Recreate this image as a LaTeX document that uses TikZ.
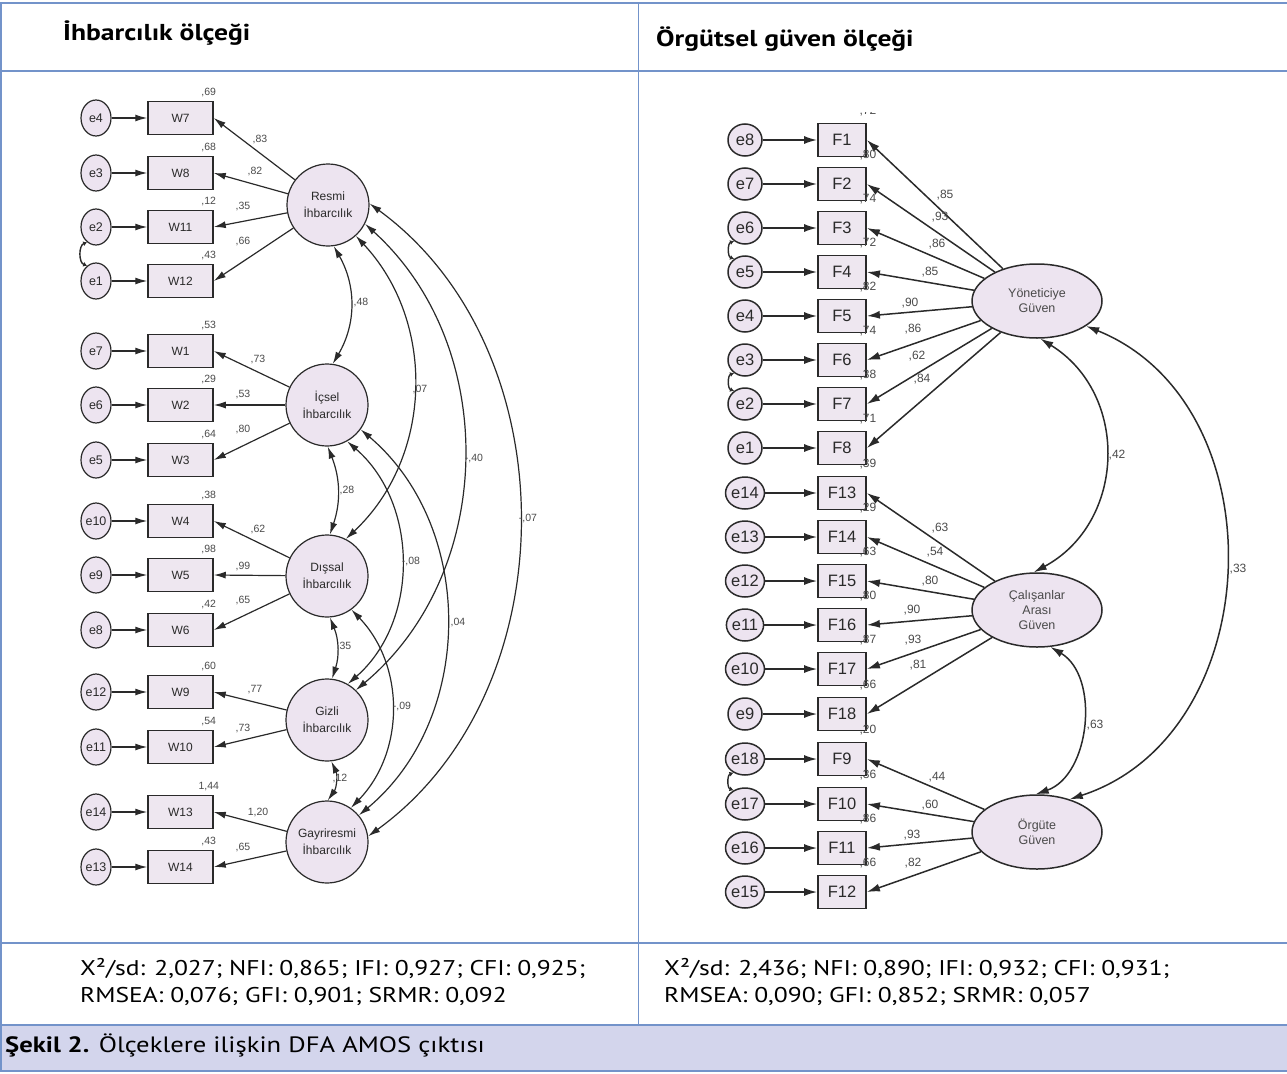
\documentclass[tikz,border=0pt]{standalone}
\usepackage{fontspec}
\setmainfont{PT Sans}[FakeStretch=1.2]
\newfontfamily\amos{Liberation Sans}
\usetikzlibrary{arrows.meta,shapes.geometric}

\definecolor{rulecol}{HTML}{7393CA}
\definecolor{capfill}{HTML}{D3D5EC}
\definecolor{latfill}{HTML}{EDE4F0}
\definecolor{boxfill}{HTML}{EEE7F0}
\definecolor{ink}{HTML}{2A2A2A}
\definecolor{numgray}{HTML}{4A4A4A}

\tikzset{
  load/.style={-{Latex[length=12pt,width=7pt]}, line width=1.2pt, draw=ink},
  loadR/.style={-{Latex[length=13pt,width=8pt]}, line width=1.5pt, draw=ink},
  cov/.style={{Latex[length=12pt,width=7pt]}-{Latex[length=12pt,width=7pt]}, line width=1.2pt, draw=ink},
  covR/.style={{Latex[length=13pt,width=8pt]}-{Latex[length=13pt,width=8pt]}, line width=1.5pt, draw=ink},
  smallcov/.style={{Latex[length=4pt,width=5pt]}-{Latex[length=4pt,width=5pt]}, line width=1.4pt, draw=ink},
  errL/.style={ellipse, draw=ink, line width=1.2pt, fill=latfill, minimum width=30pt, minimum height=36pt, inner sep=0pt, text=ink, font=\amos\fontsize{12.5}{13}\selectfont},
  obsL/.style={rectangle, draw=ink, line width=1.5pt, fill=boxfill, minimum width=65pt, minimum height=33pt, inner sep=0pt, text=ink, font=\amos\fontsize{12}{13}\selectfont},
  latL/.style={circle, draw=ink, line width=1.2pt, fill=latfill, minimum size=82pt, inner sep=0pt, align=center, text=ink, font=\amos\fontsize{12}{17}\selectfont},
  numL/.style={inner sep=0pt, text=numgray, font=\amos\fontsize{10.5}{10}\selectfont},
  errR/.style={ellipse, draw=ink, line width=1.5pt, fill=latfill, minimum width=34pt, minimum height=32pt, inner sep=0pt, text=ink, font=\amos\fontsize{16.5}{17}\selectfont},
  obsR/.style={rectangle, draw=ink, line width=1.8pt, fill=boxfill, minimum width=48pt, minimum height=33pt, inner sep=0pt, text=ink, font=\amos\fontsize{16.5}{17}\selectfont},
  latR/.style={ellipse, draw=ink, line width=1.5pt, fill=latfill, minimum width=130pt, minimum height=74pt, inner sep=0pt, align=center, text=ink!85, font=\amos\fontsize{12.5}{15}\selectfont},
  numR/.style={inner sep=0pt, text=numgray, font=\amos\fontsize{12}{12}\selectfont},
  headtext/.style={inner sep=0pt, font=\bfseries\fontsize{23}{25}\selectfont},
  fitline/.style={inner sep=0pt, font=\fontsize{21.3}{24}\selectfont},
}

\begin{document}
\begin{tikzpicture}[x=1pt,y=-1pt]
\useasboundingbox (0,0) rectangle (1287,1073);

% table frame
\fill[capfill] (0,1025) rectangle (1287,1071);
\draw[rulecol, line width=2pt] (0,3) -- (1287,3);
\draw[rulecol, line width=2pt] (0,71) -- (1287,71);
\draw[rulecol, line width=2pt] (0,943) -- (1287,943);
\draw[rulecol, line width=2pt] (0,1025) -- (1287,1025);
\draw[rulecol, line width=2pt] (0,1071) -- (1287,1071);
\draw[rulecol, line width=1.5pt] (1,3) -- (1,1071);
\draw[rulecol, line width=1pt] (638,3) -- (638,1025);

\node[headtext, anchor=base west] (hl) at (63,41) {İhbarcılık ölçeği};
\node[headtext, anchor=base west] (hr) at (656,47) {Örgütsel güven ölçeği};

\node[fitline, anchor=base west] (fitl1) at (80,975) {X²/sd: 2,027; NFI: 0,865; IFI: 0,927; CFI: 0,925;};
\node[fitline, anchor=base west] (fitl2) at (80,1002) {RMSEA: 0,076; GFI: 0,901; SRMR: 0,092};
\node[fitline, anchor=base west] (fitr1) at (664,975) {X²/sd: 2,436; NFI: 0,890; IFI: 0,932; CFI: 0,931;};
\node[fitline, anchor=base west] (fitr2) at (664,1002) {RMSEA: 0,090; GFI: 0,852; SRMR: 0,057};
\node[fitline, anchor=base west, font=\fontsize{22.2}{24}\selectfont] (cap) at (5,1052) {\textbf{Şekil 2.} Ölçeklere ilişkin DFA AMOS çıktısı};

% ihbarcilik model
\node[latL] (R) at (328,205) {Resmi\\İhbarcılık};
\node[latL] (I) at (327,405) {İçsel\\İhbarcılık};
\node[latL] (D) at (327,576) {Dışsal\\İhbarcılık};
\node[latL] (G) at (327,720) {Gizli\\İhbarcılık};
\node[latL] (Gy) at (327,842) {Gayriresmi\\İhbarcılık};

\foreach \ev/\bx/\yy/\rs/\ld/\lx/\ly/\lv in {
  4/W7/118/{,69}/{,83}/260/140/R, 3/W8/173/{,68}/{,82}/255/172/R,
  2/W11/227/{,12}/{,35}/243/207/R, 1/W12/281/{,43}/{,66}/243/242/R,
  7/W1/351/{,53}/{,73}/258/360/I, 6/W2/405/{,29}/{,53}/243/395/I,
  5/W3/460/{,64}/{,80}/243/430/I, 10/W4/521/{,38}/{,62}/258/529/D,
  9/W5/575/{,98}/{,99}/243/566/D, 8/W6/630/{,42}/{,65}/243/600/D,
  12/W9/692/{,60}/{,77}/255/690/G, 11/W10/747/{,54}/{,73}/243/728/G,
  14/W13/812/{1,44}/{1,20}/258/812/Gy, 13/W14/867/{,43}/{,65}/243/847/Gy}{
  \node[errL] (le\ev) at (96,\yy) {e\ev};
  \node[obsL] (\bx) at (180.5,\yy) {\bx};
  \draw[load] (le\ev) -- (\bx);
  \draw[load] (\lv) -- (\bx.east);
  \node[numL, anchor=south, xshift=-5pt, yshift=4pt] (rsq\bx) at (\bx.north east) {\rs};
  \node[numL] (lam\bx) at (\lx,\ly) {\ld};
}
\draw[smallcov] (le2.240) to[bend right=70] (le1.120);

\draw[cov] (R.-82) to[bend left=30] (I.82);
\draw[cov] (R.-48) to[bend left=45] (D.63);
\draw[cov] (R.-27) to[bend left=49] (G.46);
\draw[cov] (R.2) to[bend left=54] (Gy.8);
\draw[cov] (I.-89) to[bend left=20] (D.86);
\draw[cov] (I.-61) to[bend left=49] (G.60);
\draw[cov] (I.-36) to[bend left=50] (Gy.40);
\draw[cov] (D.-86) to[bend left=20] (G.83);
\draw[cov] (D.-54) to[bend left=44] (Gy.55);
\draw[cov] (G.-84) to[bend left=30] (Gy.89);
\node[numL] (rI) at (361,303) {,48};
\node[numL] (rD) at (420,390) {,07};
\node[numL] (rG) at (474,459) {-,40};
\node[numL] (rGy) at (528,518) {-,07};
\node[numL] (iD) at (347,490) {,28};
\node[numL] (iG) at (411,561) {-,08};
\node[numL] (iGy) at (458,622) {,04};
\node[numL] (dG) at (344,646) {,35};
\node[numL] (dGy) at (402,706) {-,09};
\node[numL] (gGy) at (340,778) {,12};

% orgutsel guven model
\begin{scope}
\clip (640,112) rectangle (1287,941);
\node[latR] (Y) at (1037,301) {Yöneticiye\\Güven};
\node[latR] (C) at (1037,610) {Çalışanlar\\Arası\\Güven};
\node[latR] (O) at (1037,832) {Örgüte\\Güven};

\foreach \ev/\bx/\yy/\rs/\ld/\lx/\ly/\lv in {
  8/F1/140/{,72}/{,85}/945/195/Y, 7/F2/184/{,80}/{,93}/940/217/Y,
  6/F3/228/{,74}/{,86}/937/244/Y, 5/F4/272/{,72}/{,85}/930/272/Y,
  4/F5/316/{,82}/{,90}/910/303/Y, 3/F6/360/{,74}/{,86}/913/329/Y,
  2/F7/404/{,38}/{,62}/917/356/Y, 1/F8/448/{,71}/{,84}/922/379/Y,
  14/F13/493/{,39}/{,63}/940/528/C, 13/F14/537/{,29}/{,54}/935/552/C,
  12/F15/581/{,63}/{,80}/930/581/C, 11/F16/625/{,80}/{,90}/912/610/C,
  10/F17/669/{,87}/{,93}/913/640/C, 9/F18/714/{,66}/{,81}/918/665/C,
  18/F9/759/{,20}/{,44}/937/777/O, 17/F10/804/{,36}/{,60}/930/805/O,
  16/F11/848/{,86}/{,93}/912/835/O, 15/F12/892/{,66}/{,82}/913/863/O}{
  \node[errR] (re\ev) at (745,\yy) {e\ev};
  \node[obsR] (\bx) at (842,\yy) {\bx};
  \draw[loadR] (re\ev) -- (\bx);
  \draw[loadR] (\lv) -- (\bx.east);
  \node[numR, anchor=south, xshift=1pt, yshift=6pt] (rsq\bx) at (\bx.north east) {\rs};
  \node[numR] (lam\bx) at (\lx,\ly) {\ld};
}
\draw[smallcov] (re6.230) to[bend right=70] (re5.130);
\draw[smallcov] (re3.230) to[bend right=70] (re2.130);
\draw[smallcov] (re18.230) to[bend right=70] (re17.130);

\draw[covR] (Y.-85) to[bend left=60, looseness=1.15] (C.95);
\draw[covR] (C.-70) to[bend left=65] (O.92);
\draw[covR] (Y.-27) to[bend left=70, looseness=1.13] (O.45);
\node[numR] (yC) at (1117,455) {,42};
\node[numR] (cO) at (1095,725) {,63};
\node[numR] (yO) at (1238,569) {,33};
\end{scope}
\end{tikzpicture}
\end{document}
